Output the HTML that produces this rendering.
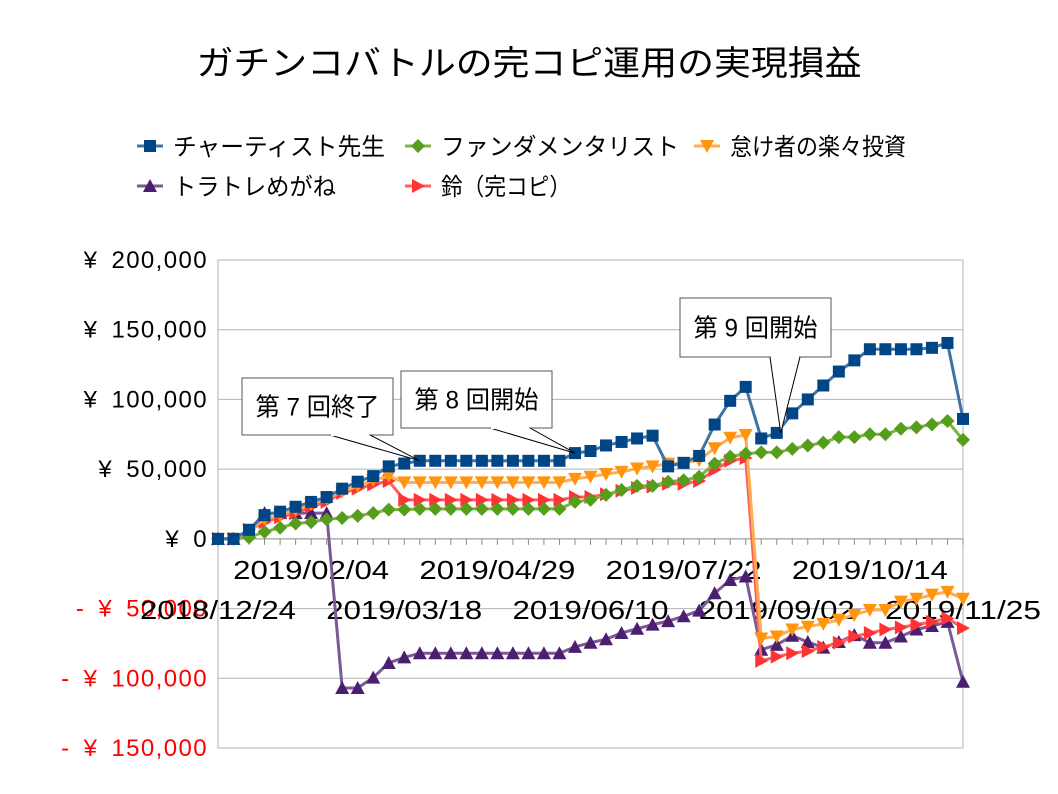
<!DOCTYPE html>
<html><head><meta charset="utf-8"><style>
body{margin:0;background:#fff}
svg{display:block;font-family:"Liberation Sans","Noto Sans CJK JP",sans-serif}
</style></head><body>
<svg id="c" width="1058" height="794" viewBox="0 0 1058 794">
<text x="529" y="75" font-size="34" text-anchor="middle" textLength="665" lengthAdjust="spacingAndGlyphs">ガチンコバトルの完コピ運用の実現損益</text>
<g id="grid"></g>
<g id="series"></g>
<g id="legend"></g>
<g id="notes"></g>
</svg>
<script>
const startLabels = ["2018/12/24","2019/02/04","2019/03/18","2019/04/29","2019/06/10","2019/07/22","2019/09/02","2019/10/14","2019/11/25"];
const yTicks = [200000,150000,100000,50000,0,-50000,-100000,-150000];
const yTickLabels = ["¥ 200,000","¥ 150,000","¥ 100,000","¥ 50,000","¥ 0","- ¥ 50,000","- ¥ 100,000","- ¥ 150,000"];
const seriesNames = ["チャーティスト先生","ファンダメンタリスト","怠け者の楽々投資","トラトレめがね","鈴（完コピ）"];
// values in thousands of yen, weekly
const chartist = [0,0,6.5,17,19.5,23,26.5,30,36,41,45,52,54,56,56,56,56,56,56,56,56,56,56,61.5,63,67,69.5,72,74,52,54.5,59.5,82,99,109,72,76,90,100,110,120,128,136,136,136,136,137,140.5,86];
const fundamental = [0,0,1,5,8,11,12,14,15,16.5,18.5,21,21,21.5,21.5,21.5,21.5,21.5,21.5,21.5,21.5,21.5,21.5,26.5,28,31.5,35,38,38,41,42,44.5,54,59,61,62,62,64.5,67,69,73,73,75,75,79,80,82,84.5,71];
const lazy = [0,0,6,14,17,21,25,29,34,38,42,45,40.5,40.5,40.5,40.5,40.5,40.5,40.5,40.5,40.5,40.5,40.5,43,44.5,46.5,48,50.5,52,54,54.5,56.5,65,72.5,74.5,-71.5,-70,-65,-63,-61,-58,-54.5,-51,-51,-45,-43,-40,-38,-43];
const toratore = [0,0,6,18.5,18.5,18.5,18.5,18.5,-107,-107,-99.5,-89,-85,-82,-82,-82,-82,-82,-82,-82,-82,-82,-82,-77.5,-74.5,-72,-67.5,-64.5,-61.5,-59,-55.5,-51.5,-39,-29.5,-27,-79.5,-76,-69.5,-74,-78,-74,-69,-74.5,-74.5,-70,-65,-62.5,-59.5,-102.5];
const suzu = [0,0,6.5,12,15.5,18.5,23,26.5,33,36,39,41.5,28,28,28,28,28,28,28,28,28,28,28,30,30,32,34.5,36.5,37.5,39.5,39.5,41.5,49.5,56,58,-87.5,-84.5,-82,-80.5,-77.5,-74.5,-70,-67.5,-65,-63.5,-61.5,-59.5,-57,-64];

const NS='http://www.w3.org/2000/svg';
const L=218,R=963,T=260,B=748,N=chartist.length;
const xs=i=>L+i*(R-L)/(N-1);
const ys=v=>T+(200000-v*1000)/350000*(B-T);
function mk(tag,attrs,parent,text){const e=document.createElementNS(NS,tag);for(const k in attrs)e.setAttribute(k,attrs[k]);if(text!=null)e.textContent=text;parent.appendChild(e);return e;}
const grid=document.getElementById('grid');
yTicks.forEach((t,i)=>{
  const y=ys(t/1000);
  const ln=mk('line',{x1:L,x2:R,y1:y,y2:y,stroke:t===0?'#888':'#b3b3b3','stroke-width':1},grid);
  
  
  const tx=mk('text',{x:208,y:y+8,'font-size':24,'letter-spacing':1.4,'word-spacing':5,'text-anchor':'end',fill:t<0?'#ff0000':'#000'},grid,yTickLabels[i]);
  
  
});
mk('line',{x1:L,x2:L,y1:T,y2:B,stroke:'#b3b3b3'},grid);
mk('line',{x1:R,x2:R,y1:T,y2:B,stroke:'#b3b3b3'},grid);
for(let i=0;i<N;i++){
  const tk=mk('line',{x1:xs(i),x2:xs(i),y1:ys(0),y2:ys(0)+6,stroke:'#888'},grid);
  
  
}
startLabels.forEach((s,k)=>{
  const i=k*6;
  const tx=mk('text',{x:xs(i),y:k%2?579:619,'font-size':26,'text-anchor':'middle',textLength:156,lengthAdjust:'spacingAndGlyphs'},grid,s);
  
  
});
const colors=['#004586','#579d1c','#ff950e','#4b1f6f','#ff3333'];
const lineCol=['#3e73a6','#7cb342','#ffad4f','#7a5a94','#ff6060'];
const data=[chartist,fundamental,lazy,toratore,suzu];
function marker(type,x,y,c,p){
  let e;
  if(type===0)e=mk('rect',{x:x-6,y:y-6,width:12,height:12,fill:c},p);
  else if(type===1)e=mk('polygon',{points:`${x},${y-7} ${x+7},${y} ${x},${y+7} ${x-7},${y}`,fill:c},p);
  else if(type===2)e=mk('polygon',{points:`${x-7},${y-6} ${x+7},${y-6} ${x},${y+7}`,fill:c},p);
  else if(type===3)e=mk('polygon',{points:`${x-7},${y+6} ${x+7},${y+6} ${x},${y-7}`,fill:c},p);
  else e=mk('polygon',{points:`${x-6},${y-7} ${x-6},${y+7} ${x+7},${y}`,fill:c},p);
  return e;
}
const sg=document.getElementById('series');
[3,4,2,1,0].forEach(s=>{
  const g=mk('g',{},sg);
  
  
  const pts=data[s].map((v,i)=>xs(i)+','+ys(v)).join(' ');
  mk('polyline',{points:pts,fill:'none',stroke:lineCol[s],'stroke-width':3},g);
  data[s].forEach((v,i)=>{
    const m=marker(s,xs(i),ys(v),colors[s],g);
    
    
  });
});
const lg=document.getElementById('legend');
const lpos=[[137,146],[405,146],[694,146],[137,186],[405,186]];
const lw=[212,238,176,163,130];
seriesNames.forEach((n,s)=>{
  const [x,y]=lpos[s];
  const g=mk('g',{},lg);
  
  
  mk('line',{x1:x,x2:x+26,y1:y,y2:y,stroke:lineCol[s],'stroke-width':3},g);
  marker(s,x+13,y,colors[s],g);
  mk('text',{x:x+36,y:y+9,'font-size':24,textLength:lw[s],lengthAdjust:'spacingAndGlyphs'},g,n);
});
const ng=document.getElementById('notes');
function note(bx,by,bw,bh,text,p1,p2,tip){
  const g=mk('g',{},ng);
  
  
  mk('polygon',{points:`${p1},${by+bh} ${tip[0]},${tip[1]} ${p2},${by+bh}`,fill:'#fff',stroke:'#000','stroke-width':1},g);
  mk('rect',{x:bx,y:by,width:bw,height:bh,fill:'#fff',stroke:'#555','stroke-width':1},g);
  mk('line',{x1:p1+1,x2:p2-1,y1:by+bh,y2:by+bh,stroke:'#fff','stroke-width':2},g);
  mk('text',{x:bx+bw/2,y:by+bh/2+9,'font-size':25,'text-anchor':'middle',textLength:124,lengthAdjust:'spacingAndGlyphs'},g,text);
}
note(242,378,151,57,'第 7 回終了',330,370,[xs(13),ys(56)]);
note(401,371,151,57,'第 8 回開始',490,530,[xs(23),ys(61.5)]);
note(680,298,151,59,'第 9 回開始',770,800,[xs(36)+4,ys(76)]);
</script>
</body></html>
